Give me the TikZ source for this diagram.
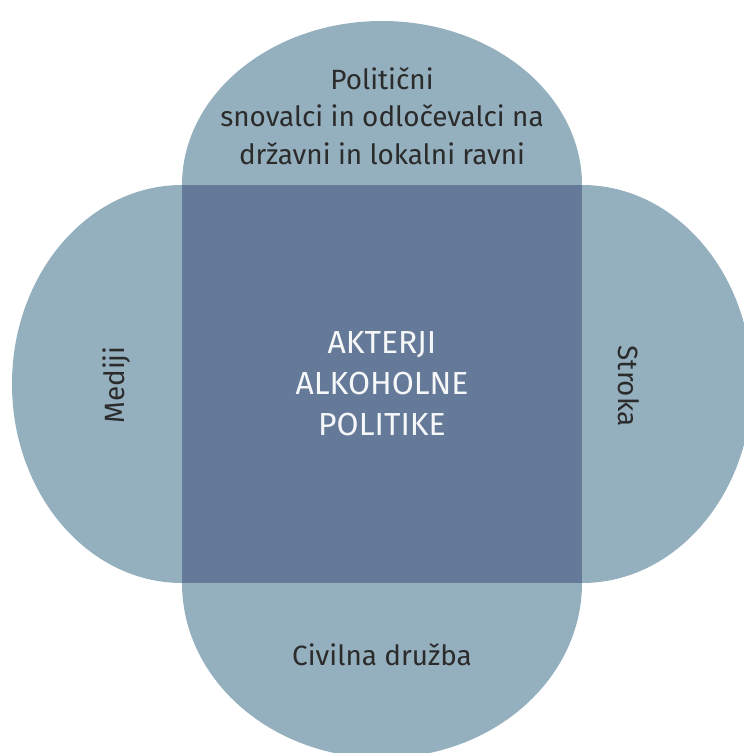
\documentclass[tikz,border=0pt]{standalone}
\usepackage{fontspec}
\setmainfont{Fira Sans}
\definecolor{lobeblue}{HTML}{94AFBE}
\definecolor{coreblue}{HTML}{657A98}
\definecolor{labgrey}{HTML}{2B2B2B}
\begin{document}
\begin{tikzpicture}[x=1bp, y=-1bp,
  lobe/.style={fill=lobeblue},
  core/.style={fill=coreblue, minimum width=400bp, minimum height=398bp, inner sep=0pt,
    text=white!94!coreblue, align=center, font=\fontsize{32}{41}\selectfont},
  lab/.style={text=labgrey, align=center, font=\fontsize{28}{37.5}\selectfont}]
\useasboundingbox (0,0) rectangle (744,753);
\clip (0,0) rectangle (744,753);
% four half-ellipses behind the square
\foreach \cx/\cy/\rx/\ry in {382/185/200/164, 182/384/170/199, 582/384/170/199, 382/583/200/175} {
  \fill[lobe] (\cx,\cy) ellipse [x radius=\rx, y radius=\ry];
}
\node[core] (akterji) at (382,384) {AKTERJI\\ALKOHOLNE\\POLITIKE};
\node[lab] (politicni) at (382,116) {Politični\\snovalci in odločevalci na\\državni in lokalni ravni};
\node[lab, rotate=90] (mediji) at (117,385) {Mediji};
\node[lab, rotate=-90] (stroka) at (629,386) {Stroka};
\node[lab, anchor=base] (civilna) at (382,665) {Civilna družba};
\end{tikzpicture}
\end{document}
